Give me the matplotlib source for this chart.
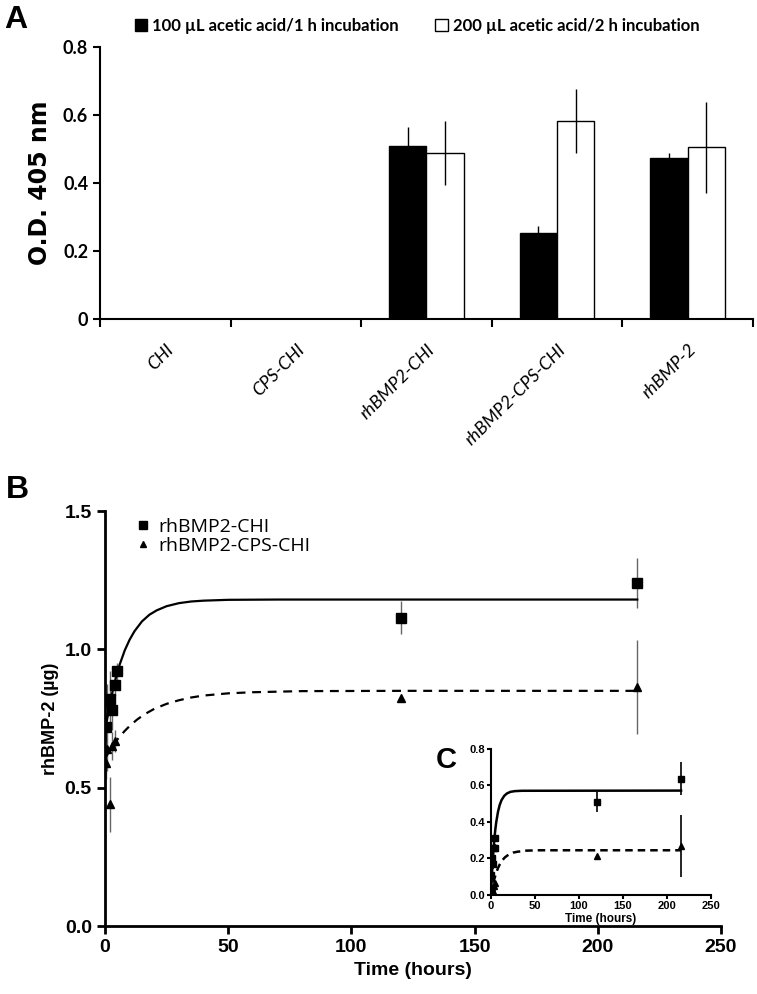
"""
Panel A: ALP-style O.D. bars, panel B/C: cumulative rhBMP-2 release
"""

import matplotlib
matplotlib.use("Agg")
import matplotlib.pyplot as plt
from matplotlib.patches import Patch
import numpy as np

# ---- panel A data ----
categories = ["CHI", "CPS-CHI", "rhBMP2-CHI", "rhBMP2-CPS-CHI", "rhBMP-2"]
od_100 = [0.0, 0.0, 0.509, 0.253, 0.475]
od_100_err = [0.0, 0.0, 0.055, 0.021, 0.012]
od_200 = [0.0, 0.0, 0.488, 0.582, 0.505]
od_200_err = [0.0, 0.0, 0.094, 0.095, 0.133]
legend_a = ["100 µL acetic acid/1 h incubation", "200 µL acetic acid/2 h incubation"]

# ---- panel B data (measured points) ----
t_chi = [0.5, 1, 2, 3, 4, 5, 120, 216]
y_chi = [0.72, 0.815, 0.82, 0.78, 0.87, 0.92, 1.115, 1.24]
e_chi = [0.05, 0.06, 0.10, 0.07, 0.04, 0.03, 0.06, 0.09]
t_cps = [0.5, 1, 2, 3, 4, 120, 216]
y_cps = [0.59, 0.64, 0.44, 0.65, 0.67, 0.825, 0.864]
e_cps = [0.06, 0.08, 0.10, 0.05, 0.04, 0.0, 0.17]

# fitted curves
fit_t_chi = [0, 1, 2, 3, 4, 5, 6, 8, 10, 12, 15, 18, 21, 25, 30, 35, 40, 50, 70, 216]
fit_y_chi = [0.700, 0.754, 0.802, 0.845, 0.883, 0.917, 0.946, 0.996, 1.035, 1.066,
             1.101, 1.125, 1.141, 1.156, 1.167, 1.173, 1.176, 1.179, 1.180, 1.180]
fit_t_cps = [0, 2, 4, 6, 8, 10, 13, 16, 20, 25, 30, 35, 40, 50, 60, 80, 120, 216]
fit_y_cps = [0.605, 0.635, 0.662, 0.685, 0.705, 0.723, 0.746, 0.765, 0.785, 0.803,
             0.816, 0.826, 0.833, 0.841, 0.845, 0.849, 0.850, 0.850]

# ---- panel C data (inset) ----
tc_chi = [0.5, 1, 2, 3, 4, 5, 120, 216]
yc_chi = [0.11, 0.20, 0.17, 0.26, 0.26, 0.31, 0.51, 0.636]
ec_chi = [0.02, 0.03, 0.03, 0.02, 0.02, 0.02, 0.055, 0.09]
tc_cps = [0.5, 1, 2, 3, 4, 120, 216]
yc_cps = [0.01, 0.04, 0.02, 0.05, 0.065, 0.214, 0.268]
ec_cps = [0.0, 0.0, 0.0, 0.0, 0.0, 0.0, 0.17]

fitc_t_chi = [0, 1, 2, 3, 4, 5, 6, 8, 10, 12, 15, 18, 22, 27, 35, 216]
fitc_y_chi = [0.0, 0.104, 0.189, 0.258, 0.315, 0.362, 0.400, 0.457, 0.495, 0.520,
              0.543, 0.556, 0.565, 0.569, 0.571, 0.572]
fitc_t_cps = [0, 1, 2, 3, 4, 6, 8, 10, 13, 16, 20, 25, 30, 40, 55, 216]
fitc_y_cps = [0.0, 0.027, 0.051, 0.072, 0.091, 0.123, 0.148, 0.168, 0.191, 0.207,
              0.221, 0.232, 0.237, 0.243, 0.245, 0.245]

NARROW = ["Lato", "DejaVu Sans"]
SANS = ["Liberation Sans", "DejaVu Sans"]
OPEN = ["Open Sans", "DejaVu Sans"]

fig = plt.figure(figsize=(7.57, 9.94), dpi=100)

# ================= A =================
ax = fig.add_axes([0.1321, 0.679, 0.8626, 0.2737])
x = np.arange(len(categories))
w = 0.285
ax.bar(x - w / 2, od_100, w, color="black", edgecolor="black", linewidth=1)
ax.bar(x + w / 2, od_200, w, color="white", edgecolor="black", linewidth=1)
ax.errorbar(x - w / 2, od_100, yerr=od_100_err, fmt="none", ecolor="black", elinewidth=1, capsize=0)
ax.errorbar(x + w / 2, od_200, yerr=od_200_err, fmt="none", ecolor="black", elinewidth=1, capsize=0)
ax.set_xlim(-0.5, len(categories) - 0.5)
ax.set_ylim(0, 0.8)
ax.set_yticks([0, 0.2, 0.4, 0.6, 0.8])
ax.set_yticklabels(["0", "0.2", "0.4", "0.6", "0.8"], family=NARROW, fontweight="bold", fontsize=13)
ax.set_xticks(x)
ax.set_xticklabels(categories, rotation=45, ha="right", rotation_mode="anchor",
                   family=NARROW, style="italic", fontsize=13)
ax.set_xticks(np.arange(-0.5, len(categories)), minor=True)
ax.tick_params(axis="x", which="major", length=0, pad=16)
ax.tick_params(axis="x", which="minor", length=6, width=1.5, direction="out")
ax.tick_params(axis="y", length=5, width=1.5, direction="out")
for s in ["top", "right"]:
    ax.spines[s].set_visible(False)
for s in ["left", "bottom"]:
    ax.spines[s].set_linewidth(1.5)
ax.set_ylabel("O.D. 405 nm", family=["DejaVu Sans"], fontweight="bold", fontsize=17, labelpad=8)

handles = [Patch(facecolor="black", edgecolor="black"), Patch(facecolor="white", edgecolor="black")]
fig.legend(handles, legend_a, loc="upper left", bbox_to_anchor=(0.158, 0.997), ncol=2,
           frameon=False, prop={"family": NARROW, "weight": "bold", "size": 12},
           handlelength=0.75, handleheight=0.75, handletextpad=0.3, columnspacing=2.2)

fig.text(0.006, 0.995, "A", family=SANS, fontweight="bold", fontsize=23, va="top")

# ================= B =================
bx = fig.add_axes([0.1387, 0.0684, 0.8138, 0.4175])
bx.errorbar(t_chi, y_chi, yerr=e_chi, fmt="none", ecolor="#666666", elinewidth=1, capsize=0, zorder=2)
bx.errorbar(t_cps, y_cps, yerr=e_cps, fmt="none", ecolor="#666666", elinewidth=1, capsize=0, zorder=2)
bx.plot(fit_t_chi, fit_y_chi, color="black", lw=1.6, zorder=3)
bx.plot(fit_t_cps, fit_y_cps, color="black", lw=1.6, linestyle=(0, (4, 3)), zorder=3)
bx.plot(t_chi, y_chi, "s", color="black", ms=6.5, zorder=4, label="rhBMP2-CHI")
bx.plot(t_cps, y_cps, "^", color="black", ms=6, zorder=4, label="rhBMP2-CPS-CHI")
bx.set_xlim(0, 250)
bx.set_ylim(0, 1.5)
bx.set_xticks([0, 50, 100, 150, 200, 250])
bx.set_yticks([0.0, 0.5, 1.0, 1.5])
bx.set_yticklabels(["0.0", "0.5", "1.0", "1.5"])
for lab in bx.get_xticklabels() + bx.get_yticklabels():
    lab.set_family(SANS)
    lab.set_fontweight("bold")
    lab.set_fontsize(14)
bx.tick_params(length=6, width=2, direction="out")
for s in ["top", "right"]:
    bx.spines[s].set_visible(False)
for s in ["left", "bottom"]:
    bx.spines[s].set_linewidth(2)
bx.set_xlabel("Time (hours)", family=SANS, fontweight="bold", fontsize=14)
bx.set_ylabel("rhBMP-2 (µg)", family=SANS, fontweight="bold", fontsize=13)
bx.legend(loc="upper left", bbox_to_anchor=(0.02, 1.025), frameon=False,
          prop={"family": OPEN, "size": 14}, handlelength=0.8, handletextpad=0.4,
          labelspacing=0.05, markerscale=0.8)

fig.text(0.008, 0.522, "B", family=SANS, fontweight="bold", fontsize=23, va="top")

# ================= C (inset) =================
cx = fig.add_axes([0.6486, 0.0996, 0.2906, 0.1469])
cx.errorbar(tc_chi, yc_chi, yerr=ec_chi, fmt="none", ecolor="black", elinewidth=1.2, capsize=0)
cx.errorbar(tc_cps, yc_cps, yerr=ec_cps, fmt="none", ecolor="black", elinewidth=1.2, capsize=0)
cx.plot(fitc_t_chi, fitc_y_chi, color="black", lw=1.8)
cx.plot(fitc_t_cps, fitc_y_cps, color="black", lw=1.8, linestyle=(0, (3, 2)))
cx.plot(tc_chi, yc_chi, "s", color="black", ms=4.5)
cx.plot(tc_cps, yc_cps, "^", color="black", ms=4)
cx.set_xlim(0, 250)
cx.set_ylim(0, 0.8)
cx.set_xticks([0, 50, 100, 150, 200, 250])
cx.set_yticks([0.0, 0.2, 0.4, 0.6, 0.8])
cx.set_yticklabels(["0.0", "0.2", "0.4", "0.6", "0.8"])
for lab in cx.get_xticklabels() + cx.get_yticklabels():
    lab.set_family(SANS)
    lab.set_fontweight("bold")
    lab.set_fontsize(8)
cx.tick_params(length=3, width=1.5, direction="out", pad=1.5)
for s in ["top", "right"]:
    cx.spines[s].set_visible(False)
for s in ["left", "bottom"]:
    cx.spines[s].set_linewidth(1.5)
cx.set_xlabel("Time (hours)", family=SANS, fontweight="bold", fontsize=8.5, labelpad=1)
cx.patch.set_alpha(0)

fig.text(0.576, 0.25, "C", family=SANS, fontweight="bold", fontsize=21, va="top")

plt.savefig("out.png", dpi=100)
plt.close()
